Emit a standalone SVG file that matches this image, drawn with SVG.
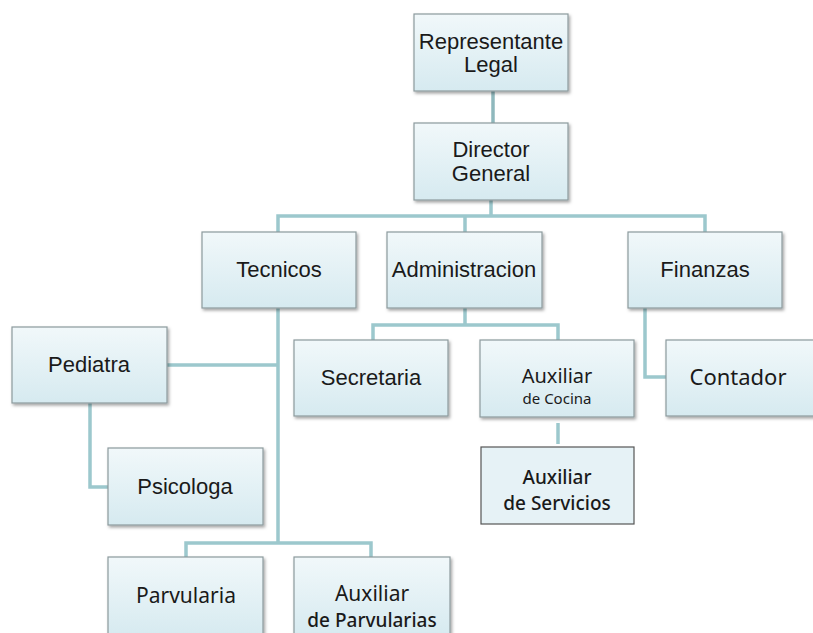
<svg xmlns="http://www.w3.org/2000/svg" width="813" height="633" viewBox="0 0 813 633">
<defs>
<linearGradient id="g" x1="0" y1="0" x2="0" y2="1">
<stop offset="0" stop-color="#f1f8fa"/>
<stop offset="1" stop-color="#d6eaf0"/>
</linearGradient>
<filter id="sh" x="-10%" y="-10%" width="125%" height="125%">
<feDropShadow dx="1.5" dy="2" stdDeviation="1.5" flood-color="#000" flood-opacity="0.35"/>
</filter>
</defs>
<style>
.box{fill:url(#g);stroke:#8c9a9d;stroke-width:1.2;filter:url(#sh)}
.flat{fill:#e6f2f6;stroke:#555;stroke-width:1.2}
.t{font-family:"Liberation Sans",Arial,sans-serif;font-size:22px;fill:#1a1a1a;text-anchor:middle}
.m{font-family:"Noto Sans","Open Sans",sans-serif;font-size:21px;fill:#1a1a1a;text-anchor:middle}
.c{fill:none;stroke:#9cc8cd;stroke-width:3.5}
</style>
<g id="connectors">
<path class="c" d="M493 91V123" style="stroke:#8fb8bd"/>
<path class="c" d="M491 200V216M278 232V216H705V232M465 216V232"/>
<path class="c" d="M465 308V325M373 340V325H558V340"/>
<path class="c" d="M645 308V377H666"/>
<path class="c" d="M278 308V543M167 365H278M186 557V543H371V557"/>
<path class="c" d="M90 403V487H108"/>
<path class="c" d="M558 423V444"/>
</g>
<g id="representante"><rect class="box" x="414" y="14" width="154" height="77"/><text class="t" x="491" y="49">Representante</text><text class="t" x="491" y="72">Legal</text></g>
<g id="director"><rect class="box" x="414" y="123" width="154" height="77"/><text class="t" x="491" y="157">Director</text><text class="t" x="491" y="181">General</text></g>
<g id="tecnicos"><rect class="box" x="202" y="232" width="154" height="76"/><text class="t" x="279" y="277">Tecnicos</text></g>
<g id="administracion"><rect class="box" x="387" y="232" width="155" height="76"/><text class="t" x="464" y="277">Administracion</text></g>
<g id="finanzas"><rect class="box" x="628" y="232" width="154" height="76"/><text class="t" x="705" y="277">Finanzas</text></g>
<g id="pediatra"><rect class="box" x="12" y="327" width="155" height="76"/><text class="t" x="89" y="372">Pediatra</text></g>
<g id="secretaria"><rect class="box" x="294" y="340" width="154" height="76"/><text class="t" x="371" y="385">Secretaria</text></g>
<g id="auxcocina"><rect class="box" x="480" y="340" width="154" height="77"/><text class="m" x="557" y="383" style="font-size:20px">Auxiliar</text><text class="m" x="557" y="404" style="font-size:15px">de Cocina</text></g>
<g id="contador"><rect class="box" x="666" y="340" width="154" height="76"/><text class="m" x="738" y="385" style="font-size:22px">Contador</text></g>
<g id="psicologa"><rect class="box" x="108" y="448" width="155" height="77"/><text class="t" x="185" y="494">Psicologa</text></g>
<g id="auxservicios"><rect class="flat" x="481" y="447" width="153" height="77"/><text class="m" x="557" y="484" style="font-size:19px;font-weight:500">Auxiliar</text><text class="m" x="557" y="510" style="font-size:19px;font-weight:500">de Servicios</text></g>
<g id="parvularia"><rect class="box" x="108" y="557" width="155" height="80"/><text class="m" x="186" y="603">Parvularia</text></g>
<g id="auxparvularias"><rect class="box" x="294" y="557" width="156" height="80"/><text class="m" x="372" y="601">Auxiliar</text><text class="m" x="372" y="627" style="font-size:19px;font-weight:500">de Parvularias</text></g>
</svg>
